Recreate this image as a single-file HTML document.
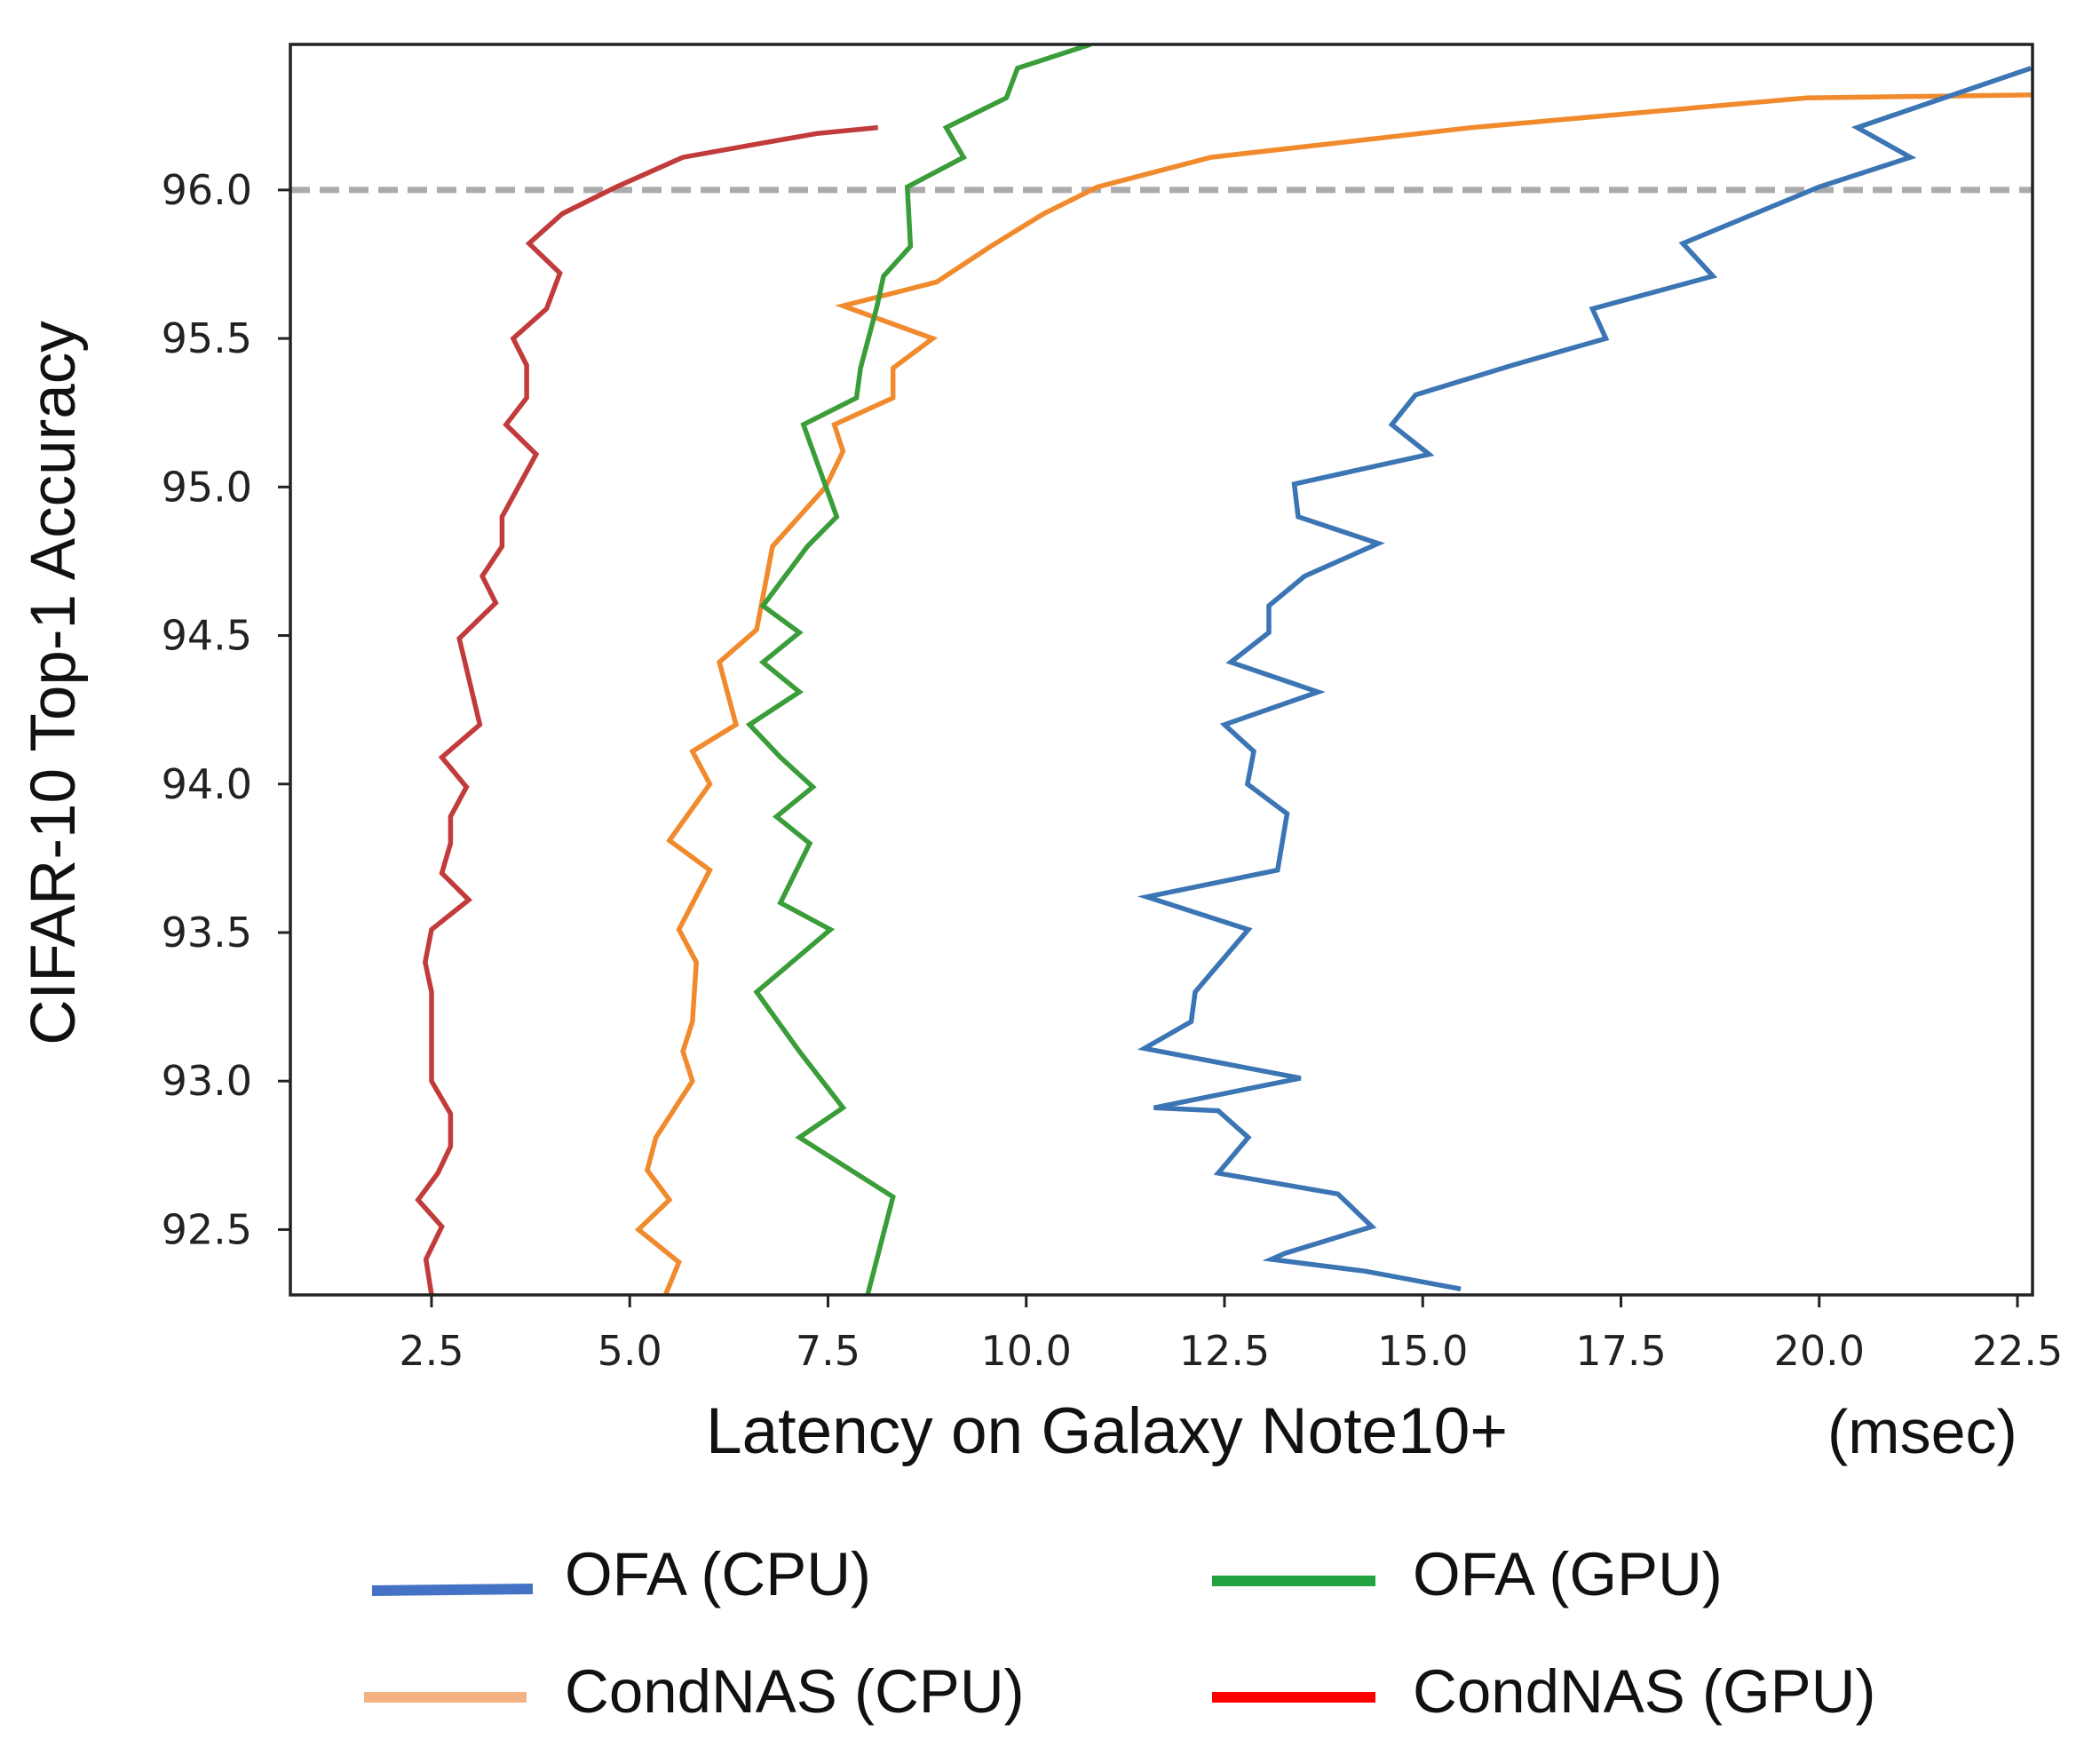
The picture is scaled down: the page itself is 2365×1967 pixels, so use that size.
<!DOCTYPE html>
<html><head><meta charset="utf-8"><style>
html,body{margin:0;padding:0;background:#fff}
svg{display:block}
</style></head><body>
<svg id="chart" width="2365" height="1967" viewBox="0 0 2365 1967" xmlns="http://www.w3.org/2000/svg">
<g id="plot"></g>
<text x="0" y="0" transform="translate(84,769) rotate(-90)" text-anchor="middle" font-family="Liberation Sans, sans-serif" font-size="71" fill="#111">CIFAR-10 Top-1 Accuracy</text>
<text x="795" y="1636" font-family="Liberation Sans, sans-serif" font-size="73" fill="#111">Latency on Galaxy Note10+</text>
<text x="2058" y="1636" font-family="Liberation Sans, sans-serif" font-size="70" fill="#111">(msec)</text>
<g font-family="Liberation Sans, sans-serif" font-size="69" fill="#111">
<line x1="419" y1="1791" x2="600" y2="1789" stroke="#4472c4" stroke-width="12"/>
<text x="636" y="1796">OFA (CPU)</text>
<line x1="1365" y1="1780" x2="1549" y2="1780" stroke="#22a33f" stroke-width="12"/>
<text x="1591" y="1796">OFA (GPU)</text>
<line x1="410" y1="1911" x2="593" y2="1911" stroke="#f4b183" stroke-width="12"/>
<text x="636" y="1928">CondNAS (CPU)</text>
<line x1="1365" y1="1911" x2="1549" y2="1911" stroke="#ff0000" stroke-width="12"/>
<text x="1591" y="1928">CondNAS (GPU)</text>
</g>
</svg>
<script>
const xTicks = [2.5, 5.0, 7.5, 10.0, 12.5, 15.0, 17.5, 20.0, 22.5];
const xTickLabels = ["2.5","5.0","7.5","10.0","12.5","15.0","17.5","20.0","22.5"];
const yTicks = [92.5, 93.0, 93.5, 94.0, 94.5, 95.0, 95.5, 96.0];
const yTickLabels = ["92.5","93.0","93.5","94.0","94.5","95.0","95.5","96.0"];
const refAccuracy = 96.0;

const condGpuX = [2.5,2.43,2.63,2.33,2.58,2.74,2.74,2.5,2.5,2.5,2.42,2.5,2.97,2.63,2.74,2.74,2.94,2.63,3.11,2.85,3.31,3.14,3.39,3.39,3.82,3.44,3.70,3.70,3.53,3.95,4.12,3.73,4.15,4.83,5.67,6.51,7.36,8.13];
const condGpuY = [92.28,92.40,92.51,92.60,92.69,92.78,92.89,93.00,93.20,93.30,93.40,93.51,93.61,93.70,93.80,93.89,93.99,94.09,94.20,94.49,94.61,94.70,94.80,94.90,95.11,95.21,95.30,95.41,95.50,95.60,95.72,95.82,95.92,96.01,96.11,96.15,96.19,96.21];

const condCpuX = [5.45,5.62,5.11,5.50,5.22,5.33,5.79,5.67,5.79,5.84,5.62,6.01,5.50,6.01,5.79,6.34,6.13,6.60,6.80,7.47,7.69,7.58,8.32,8.32,8.82,7.69,8.87,9.55,10.22,10.90,12.33,15.62,19.84,22.67];
const condCpuY = [92.28,92.39,92.50,92.60,92.70,92.81,93.00,93.10,93.20,93.40,93.51,93.71,93.81,94.00,94.11,94.20,94.41,94.52,94.80,95.00,95.12,95.21,95.30,95.40,95.50,95.61,95.69,95.81,95.92,96.01,96.11,96.21,96.31,96.32];

const ofaGpuX = [8.0,8.32,7.14,7.69,7.14,6.60,7.53,6.90,7.27,6.85,7.31,6.90,6.51,7.14,6.68,7.14,6.68,7.24,7.61,7.19,7.86,7.91,8.12,8.20,8.54,8.50,9.21,8.99,9.75,9.89,10.81];
const ofaGpuY = [92.28,92.61,92.81,92.91,93.10,93.30,93.51,93.60,93.80,93.89,93.99,94.09,94.20,94.31,94.41,94.51,94.60,94.80,94.90,95.21,95.30,95.40,95.61,95.71,95.81,96.01,96.11,96.21,96.31,96.41,96.49];

const ofaCpuX = [15.48,14.27,13.09,13.26,14.36,13.93,12.42,12.80,12.42,11.61,13.46,11.49,12.08,12.13,12.80,11.52,13.17,13.29,12.79,12.87,12.50,13.68,12.58,13.06,13.06,13.51,14.44,13.43,13.38,15.08,14.61,14.91,16.13,17.31,17.14,18.66,18.28,20.0,21.15,20.48,22.67];
const ofaCpuY = [92.30,92.36,92.40,92.42,92.51,92.62,92.69,92.81,92.90,92.91,93.01,93.11,93.20,93.30,93.51,93.62,93.71,93.90,94.00,94.11,94.20,94.31,94.41,94.51,94.60,94.70,94.81,94.90,95.01,95.11,95.21,95.31,95.41,95.50,95.60,95.71,95.82,96.01,96.11,96.21,96.41];

const L=327,R=2289,T=50,B=1458;
const X0=0.72,X1=22.69,Y0=92.28,Y1=96.49;
const sx=v=>L+(v-X0)/(X1-X0)*(R-L);
const sy=v=>B-(v-Y0)/(Y1-Y0)*(B-T);
const NS="http://www.w3.org/2000/svg";
const g=document.getElementById('plot');
function mk(tag,attrs){const e=document.createElementNS(NS,tag);for(const k in attrs)e.setAttribute(k,attrs[k]);g.appendChild(e);return e;}

const clip=document.createElementNS(NS,'clipPath');clip.setAttribute('id','pc');
const cr=document.createElementNS(NS,'rect');cr.setAttribute('x',L);cr.setAttribute('y',T);cr.setAttribute('width',R-L);cr.setAttribute('height',B-T);
clip.appendChild(cr);g.appendChild(clip);

const ref=mk('line',{x1:L,x2:R,y1:sy(refAccuracy),y2:sy(refAccuracy),stroke:'#ababab','stroke-width':7,'stroke-dasharray':'22 11'});



function series(xs,ys,color,name){
  const d=xs.map((x,i)=>(i?'L':'M')+sx(x).toFixed(1)+' '+sy(ys[i]).toFixed(1)).join(' ');
  const p=mk('path',{d:d,fill:'none',stroke:color,'stroke-width':5.5,'stroke-linejoin':'miter','clip-path':'url(#pc)'});
  
  
}
series(condGpuX,condGpuY,'#c23b3b','line-condnas-gpu');
series(condCpuX,condCpuY,'#f08a2c','line-condnas-cpu');
series(ofaGpuX,ofaGpuY,'#3a9d3a','line-ofa-gpu');
series(ofaCpuX,ofaCpuY,'#3b75b3','line-ofa-cpu');

const frame=mk('rect',{x:L,y:T,width:R-L,height:B-T,fill:'none',stroke:'#222','stroke-width':3.5});



xTicks.forEach((v,i)=>{
  const t=mk('line',{x1:sx(v),x2:sx(v),y1:B,y2:B+14,stroke:'#222','stroke-width':3});
  
  
  const tx=mk('text',{x:sx(v),y:1537,'text-anchor':'middle','font-family':'DejaVu Sans, sans-serif','font-size':46,fill:'#222'});
  tx.textContent=xTickLabels[i];
  
  
});
yTicks.forEach((v,i)=>{
  const t=mk('line',{x1:L-14,x2:L,y1:sy(v),y2:sy(v),stroke:'#222','stroke-width':3});
  
  
  const tx=mk('text',{x:284,y:sy(v)+16,'text-anchor':'end','font-family':'DejaVu Sans, sans-serif','font-size':46,fill:'#222'});
  tx.textContent=yTickLabels[i];
  
  
});
</script>
</body></html>
